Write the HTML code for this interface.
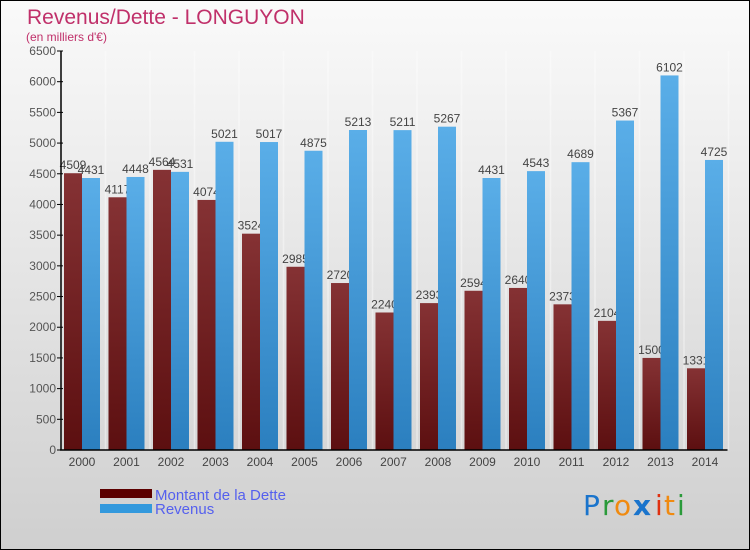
<!DOCTYPE html>
<html><head><meta charset="utf-8"><style>
body{margin:0;width:750px;height:550px;overflow:hidden;font-family:"Liberation Sans",sans-serif}
svg{display:block}
</style></head><body>
<svg width="750" height="550" xmlns="http://www.w3.org/2000/svg">
<defs>
<linearGradient id="bg" x1="0" y1="0" x2="0" y2="1"><stop offset="0" stop-color="#fafafa"/><stop offset="1" stop-color="#cfcfcf"/></linearGradient>
<linearGradient id="gd" x1="0" y1="0" x2="0" y2="1"><stop offset="0" stop-color="#853234"/><stop offset="1" stop-color="#5c0f10"/></linearGradient>
<linearGradient id="gr" x1="0" y1="0" x2="0" y2="1"><stop offset="0" stop-color="#5aaee8"/><stop offset="1" stop-color="#2b7fbf"/></linearGradient>
</defs>
<rect x="0.5" y="0.5" width="749" height="549" fill="url(#bg)" stroke="#000"/>
<text x="27" y="24" font-size="21" fill="#c0306a">Revenus/Dette - LONGUYON</text>
<text x="26" y="41" font-size="12" fill="#c0306a">(en milliers d'€)</text>
<g id="plot"></g>
<g>
<rect x="100" y="489" width="52" height="9" fill="#5c0000"/>
<text x="155" y="500" font-size="15" fill="#5560ee">Montant de la Dette</text>
<rect x="100" y="504" width="52" height="9" fill="#3399dd"/>
<text x="155" y="514" font-size="15" fill="#5560ee">Revenus</text>
</g>
<g font-size="28" font-family="'DejaVu Sans',sans-serif">
<text x="583" y="515" fill="#1a74cc">P</text><text x="602" y="515" fill="#2a9a3a">r</text><text x="614" y="515" fill="#f08a10">o</text><text x="633" y="515" fill="#1a74cc" font-weight="bold">x</text><text x="655" y="515" fill="#e03010">i</text><text x="664" y="515" fill="#f08a10">t</text><text x="677" y="515" fill="#2a9a3a">i</text>
</g>
</svg>
<script>
const categories=["2000","2001","2002","2003","2004","2005","2006","2007","2008","2009","2010","2011","2012","2013","2014"];
const dette=[4509,4117,4564,4074,3524,2985,2720,2240,2393,2594,2640,2373,2104,1500,1331];
const revenus=[4431,4448,4531,5021,5017,4875,5213,5211,5267,4431,4543,4689,5367,6102,4725];
const yTicks=[0,500,1000,1500,2000,2500,3000,3500,4000,4500,5000,5500,6000,6500];
const NS="http://www.w3.org/2000/svg";
const g=document.getElementById('plot');
const x0=60,step=44.5,yB=450,yT=51,yMax=6500,bw=18;
const y=v=>yB-(v/yMax)*(yB-yT);
const xc=i=>x0+step*i+22;
function mk(t,a){const e=document.createElementNS(NS,t);for(const k in a)e.setAttribute(k,a[k]);g.appendChild(e);return e;}
for(let i=0;i<=categories.length;i++){
 const l=mk('line',{x1:x0+step*i+1,x2:x0+step*i+1,y1:yT,y2:yB,stroke:'#fff','stroke-width':1.5,opacity:0.4});
 
 
}
yTicks.forEach(v=>{
 const t=mk('line',{x1:x0-3,x2:x0+3,y1:y(v),y2:y(v),stroke:'#000'});
 
 
 const tx=mk('text',{x:x0-4,y:y(v)+4,'font-size':12,fill:'#555','text-anchor':'end'});
 tx.textContent=v;
 
 
});
categories.forEach((c,i)=>{
 const b=mk('rect',{x:xc(i)-bw,y:y(dette[i]),width:bw,height:yB-y(dette[i]),fill:'url(#gd)'});
 
 
 const t=mk('text',{x:xc(i)-bw/2,y:y(dette[i])-4,'font-size':12,fill:'#444','text-anchor':'middle'});
 t.textContent=dette[i];
 
 
});
categories.forEach((c,i)=>{
 const b=mk('rect',{x:xc(i),y:y(revenus[i]),width:bw,height:yB-y(revenus[i]),fill:'url(#gr)'});
 
 
 const t=mk('text',{x:xc(i)+bw/2,y:y(revenus[i])-4,'font-size':12,fill:'#444','text-anchor':'middle'});
 t.textContent=revenus[i];
 
 
 const xl=mk('text',{x:xc(i),y:466,'font-size':12,fill:'#444','text-anchor':'middle'});
 xl.textContent=c;
 
 
});
const ax=mk('line',{x1:x0+1,x2:x0+1,y1:yT,y2:yB,stroke:'#000','stroke-width':1.5});


const bx=mk('line',{x1:x0,x2:x0+step*15,y1:yB,y2:yB,stroke:'#000','stroke-width':1.5});


</script>
</body></html>
